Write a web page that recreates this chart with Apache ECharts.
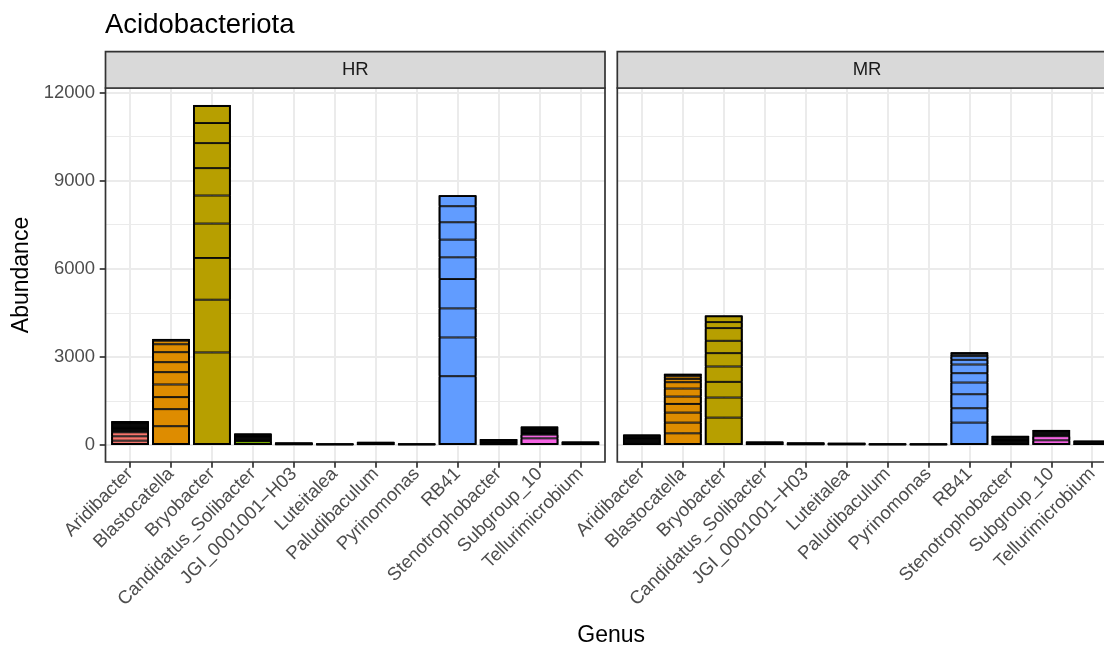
<!DOCTYPE html>
<html><head><meta charset="utf-8">
<script src="https://cdn.jsdelivr.net/npm/echarts@6/dist/echarts.min.js"></script>
<style>html,body{margin:0;padding:0;background:#fff}#c{width:1104px;height:648px}</style>
</head><body><div id="c"></div>
<script>
const genera = ['Aridibacter','Blastocatella','Bryobacter','Candidatus_Solibacter','JGI_0001001\u2212H03','Luteitalea','Paludibaculum','Pyrinomonas','RB41','Stenotrophobacter','Subgroup_10','Tellurimicrobium'];
const facets = ['HR','MR'];
const genusColors = ['#F8766D','#DE8C00','#B79F00','#7CAE00','#00BA38','#00C08B','#00BFC4','#00B4F0','#619CFF','#C77CFF','#F564E3','#FF64B0'];
// stacked segments (samples) per genus, bottom to top
const hrStacks = [
  [148,148,136,30,29,29,28,29,30,28,29,28,29,30,28,28],
  [640,580,410,430,420,340,340,270,120,60],
  [3150,1796,1421,1171,955,933,852,683,614],
  [136,28,28,27,28,29,28,27,28,28],
  [22,20,19,19],
  [16,15,14],
  [28,26,25,24],
  [16,15,14],
  [2342,1319,989,1000,739,603,591,546,376],
  [26,24,25,23,24,25,23,22],
  [227,125,28,27,27,28,26,27,28,27,26,27],
  [30,28,28,27]
];
const mrStacks = [
  [32,30,29,30,28,29,30,28,29,30,28,29],
  [398,364,341,295,251,273,216,113,91,80],
  [932,683,534,523,455,420,433,204,228],
  [30,28,28,28],
  [21,20,20,19],
  [18,17,17,16],
  [16,15,14],
  [15,15,15],
  [762,489,477,398,319,295,160,124,60,40,26],
  [29,28,27,28,29,28,27,28,29,28,27],
  [160,140,31,30,29,30,31,29,30],
  [40,36,36,36]
];
const yMajorTicks = [0,3000,6000,9000,12000];
const yMinorTicks = [1500,4500,7500,10500];

const FONT = '"Liberation Sans", Arial, Helvetica, sans-serif';
const panels = [{left:105.5, width:499.5}, {left:617.3, width:499.5}];
const pTop = 88, pBottom = 462, stripTop = 51.7;
const allStacks = [hrStacks, mrStacks];
const sum = s => s.reduce((a,b)=>a+b,0);
const maxTotal = Math.max(...hrStacks.concat(mrStacks).map(sum));
const yMin = -0.05*maxTotal, yMax = 1.05*maxTotal;
const xPad = 0.6;
const xMin = -xPad, xMax = genera.length - 1 + xPad;
const unitPx = panels[0].width/(xMax - xMin);
const segLine = 0.95, outLine = 1.9;
const barPx = 0.9*unitPx + segLine;
const catIdx = genera.map((g,i)=>i);

const grid = [], xAxis = [], yAxis = [], series = [], graphic = [];
panels.forEach((p, pi) => {
  grid.push({left:p.left, width:p.width, top:pTop, height:pBottom-pTop, containLabel:false, outerBoundsMode:'none'});
  grid.push({left:p.left + (xPad-0.5)*unitPx, width:genera.length*unitPx, top:pTop, height:pBottom-pTop, containLabel:false, outerBoundsMode:'none'});
  const gA = pi*2, gB = pi*2+1;
  xAxis.push({
    type:'value', gridIndex:gA, min:xMin, max:xMax,
    axisLine:{show:false, onZero:false},
    axisTick:{show:true, customValues:catIdx, length:5.8, lineStyle:{color:'#333333', width:1.7}},
    axisLabel:{customValues:catIdx, formatter:v=>genera[Math.round(v)], rotate:45, fontSize:18.5, color:'#4D4D4D', fontFamily:FONT, margin:9},
    splitLine:{show:true, lineStyle:{color:'#EBEBEB', width:2}}
  });
  xAxis.push({type:'category', gridIndex:gB, data:genera, show:false, boundaryGap:true});
  yAxis.push({
    type:'value', gridIndex:gA, min:yMin, max:yMax,
    axisLine:{show:false, onZero:false},
    axisTick:{show:pi===0, customValues:yMajorTicks, length:5.8, lineStyle:{color:'#333333', width:1.7}},
    axisLabel:{show:pi===0, customValues:yMajorTicks, formatter:v=>String(v), fontSize:18.5, color:'#4D4D4D', fontFamily:FONT, margin:10.4},
    splitLine:{show:true, lineStyle:{color:'#EBEBEB', width:2}}
  });
  yAxis.push({
    type:'value', gridIndex:gA, min:yMin, max:yMax,
    axisLine:{show:false, onZero:false},
    axisTick:{show:false, customValues:yMinorTicks},
    axisLabel:{show:false, customValues:yMinorTicks},
    splitLine:{show:true, lineStyle:{color:'#EBEBEB', width:1}}
  });
  yAxis.push({type:'value', gridIndex:gB, min:yMin, max:yMax, show:false, splitLine:{show:false}});
  const stacks = allStacks[pi];
  const nSeg = Math.max(...stacks.map(s=>s.length));
  for (let k = 0; k < nSeg; k++) {
    series.push({
      type:'bar', xAxisIndex:pi*2+1, yAxisIndex:pi*3+2, stack:'facet'+pi, barWidth:barPx, barGap:'-100%', z:3,
      itemStyle:{borderColor:'#000000', borderWidth:segLine},
      data: stacks.map((seg,i) => k < seg.length
        ? {value:seg[k], itemStyle:{color:genusColors[i]}}
        : '-')
    });
  }
  // outer outline of each genus column (total of its segments)
  series.push({
    type:'bar', xAxisIndex:pi*2+1, yAxisIndex:pi*3+2, barWidth:barPx, barGap:'-100%', z:4, silent:true,
    itemStyle:{color:'rgba(0,0,0,0)', borderColor:'#000000', borderWidth:outLine},
    data: stacks.map(sum)
  });
  graphic.push({type:'rect', z:100, shape:{x:p.left, y:pTop, width:p.width, height:pBottom-pTop}, style:{fill:null, stroke:'#333333', lineWidth:1.7}});
  graphic.push({type:'rect', z:100, shape:{x:p.left, y:stripTop, width:p.width, height:pTop-stripTop}, style:{fill:'#D9D9D9', stroke:'#333333', lineWidth:1.7}});
  graphic.push({type:'text', z:101, x:p.left+p.width/2, y:(stripTop+pTop)/2, style:{text:facets[pi], font:'18.5px '+FONT, fill:'#1A1A1A', align:'center', verticalAlign:'middle'}});
});
graphic.push({type:'text', z:101, x:105, y:25, style:{text:'Acidobacteriota', font:'27.5px '+FONT, fill:'#000000', align:'left', verticalAlign:'middle'}});
graphic.push({type:'text', z:101, x:22, y:(pTop+pBottom)/2, rotation:Math.PI/2, style:{text:'Abundance', font:'23px '+FONT, fill:'#000000', align:'center', verticalAlign:'middle'}});
graphic.push({type:'text', z:101, x:(panels[0].left+panels[1].left+panels[1].width)/2, y:636, style:{text:'Genus', font:'23px '+FONT, fill:'#000000', align:'center', verticalAlign:'middle'}});

const chart = echarts.init(document.getElementById('c'), null, {renderer:'canvas'});
chart.setOption({animation:false, backgroundColor:'#ffffff', grid, xAxis, yAxis, series, graphic});
</script></body></html>
